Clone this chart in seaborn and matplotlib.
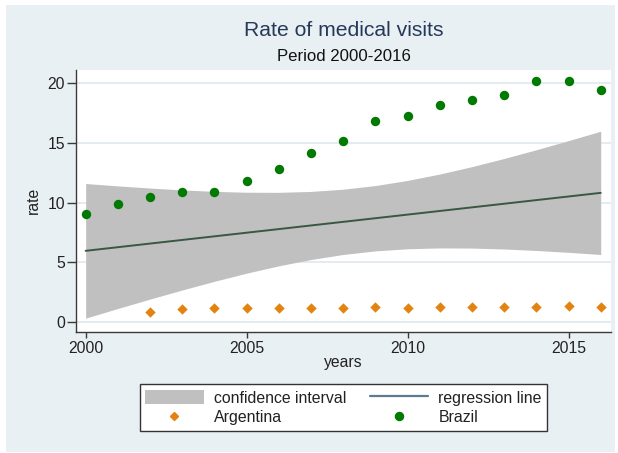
import numpy as np
import pandas as pd
import seaborn as sns
import matplotlib
matplotlib.use("Agg")
import matplotlib.pyplot as plt
from matplotlib.patches import Patch, Rectangle
from matplotlib.lines import Line2D

# Rates of medical visits by country and year
brazil_years = [2000, 2001, 2002, 2003, 2004, 2005, 2006, 2007, 2008,
                2009, 2010, 2011, 2012, 2013, 2014, 2015, 2016]
brazil_rate = [9.1, 9.9, 10.5, 10.9, 10.9, 11.8, 12.8, 14.2, 15.2,
               16.8, 17.3, 18.2, 18.6, 19.0, 20.2, 20.2, 19.4]

argentina_years = [2002, 2003, 2004, 2005, 2006, 2007, 2008, 2009,
                   2010, 2011, 2012, 2013, 2014, 2015, 2016]
argentina_rate = [0.84, 1.14, 1.22, 1.22, 1.20, 1.17, 1.22, 1.31,
                  1.22, 1.31, 1.31, 1.28, 1.31, 1.36, 1.31]

x_ticks = [2000, 2005, 2010, 2015]
y_ticks = [0, 5, 10, 15, 20]

df = pd.concat([
    pd.DataFrame({"year": argentina_years, "rate": argentina_rate, "country": "Argentina"}),
    pd.DataFrame({"year": brazil_years, "rate": brazil_rate, "country": "Brazil"}),
], ignore_index=True)

# Pooled linear fit with 95% confidence interval of the mean prediction
x = df["year"].to_numpy(float)
y = df["rate"].to_numpy(float)
n = len(x)
slope, intercept = np.polyfit(x, y, 1)
resid = y - (intercept + slope * x)
s = np.sqrt(np.sum(resid ** 2) / (n - 2))
sxx = np.sum((x - x.mean()) ** 2)
T_CRIT = 2.042  # Student t, 0.975 quantile, 30 degrees of freedom
grid_x = np.array(sorted(df["year"].unique()), dtype=float)
fit = intercept + slope * grid_x
se = s * np.sqrt(1.0 / n + (grid_x - x.mean()) ** 2 / sxx)
ci_lo, ci_hi = fit - T_CRIT * se, fit + T_CRIT * se

# Style
sns.set_theme(style="white")
plt.rcParams["font.family"] = ["Liberation Sans", "DejaVu Sans"]

BG = "#e9f0f3"
CI_COLOR = "#c0c0c0"
GREEN = "#007a00"
ORANGE = "#e3820f"
LINE_PLOT = "#3a5744"
LINE_LEG = "#5d7c92"
AXIS = "#3a3a3a"
TITLE = "#26395a"

fig = plt.figure(figsize=(6.18, 4.53), dpi=100, facecolor="white")
fig.patches.append(Rectangle((6 / 618, 1 / 453), 609 / 618, 447 / 453,
                             transform=fig.transFigure, facecolor=BG,
                             edgecolor="none", zorder=-10))

ax = fig.add_axes([0.123, 0.2678, 0.8657, 0.5777])
ax.set_facecolor("white")

ax.yaxis.grid(True, color="#e3ebee", lw=1.3)
ax.xaxis.grid(False)
ax.set_axisbelow(True)

ax.fill_between(grid_x, ci_lo, ci_hi, color=CI_COLOR, lw=0, zorder=1)
sns.lineplot(x=grid_x, y=fit, color=LINE_PLOT, lw=1.4, ax=ax, zorder=2)

arg = df[df["country"] == "Argentina"]
bra = df[df["country"] == "Brazil"]
sns.scatterplot(data=arg, x="year", y="rate", marker="D", color=ORANGE,
                s=28, linewidth=0, ax=ax, zorder=3)
sns.scatterplot(data=bra, x="year", y="rate", marker="o", color=GREEN,
                s=46, linewidth=0, ax=ax, zorder=3)

ax.set_xlim(1999.70, 2016.32)
ax.set_ylim(-0.79, 21.11)
ax.set_xticks(x_ticks)
ax.set_yticks(y_ticks)
ax.set_xticklabels([str(t) for t in x_ticks])
ax.set_yticklabels([str(t) for t in y_ticks])

for side in ("top", "right"):
    ax.spines[side].set_visible(False)
for side in ("left", "bottom"):
    ax.spines[side].set_color(AXIS)
    ax.spines[side].set_linewidth(1.0)

ax.tick_params(axis="x", direction="out", length=4, width=1, color=AXIS,
               labelsize=11.3, labelcolor="#222222", pad=3, bottom=True)
ax.tick_params(axis="y", direction="out", length=6.5, width=1, color=AXIS,
               labelsize=11.3, labelcolor="#222222", pad=1.5, left=True)

ax.set_xlabel("years", fontsize=11.3, color="#222222")
ax.set_ylabel("rate", fontsize=11.3, color="#222222")
ax.xaxis.set_label_coords(0.5, -0.116)
ax.xaxis.label.set_va("center")
ax.yaxis.set_label_coords(-0.0804, 0.5)
ax.yaxis.label.set_va("center")

fig.text(0.5558, 0.932, "Rate of medical visits", ha="center", va="center",
         fontsize=15.2, color=TITLE)
fig.text(0.5558, 0.876, "Period 2000-2016", ha="center", va="center",
         fontsize=12.1, color="#111111")

handles = [
    Patch(facecolor=CI_COLOR, edgecolor="none"),
    Line2D([], [], marker="D", color=ORANGE, linestyle="none", markersize=4.2),
    Line2D([], [], color=LINE_LEG, lw=1.6),
    Line2D([], [], marker="o", color=GREEN, linestyle="none", markersize=5.8),
]
labels = ["confidence interval", "Argentina", "regression line", "Brazil"]
leg = fig.legend(handles, labels, ncol=2, loc="center",
                 bbox_to_anchor=(0.5558, 0.1004), frameon=True,
                 fancybox=False, edgecolor="#333333", framealpha=1,
                 facecolor="white", fontsize=11.4, handlelength=3.7,
                 handleheight=1.0, handletextpad=0.63, columnspacing=1.5,
                 borderpad=0.35, labelspacing=0.25)
leg.get_frame().set_linewidth(1.0)
for t in leg.get_texts():
    t.set_color("#222222")

fig.savefig("out.png", dpi=100, facecolor="white")
